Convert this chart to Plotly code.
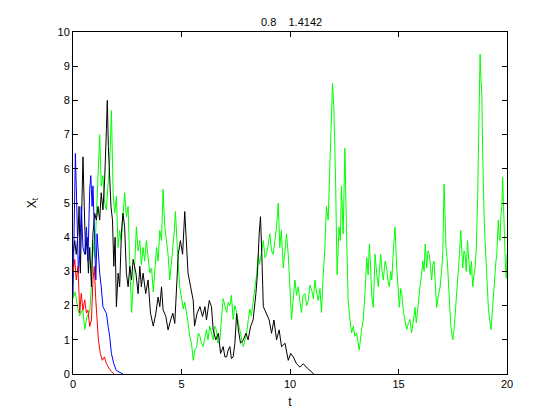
import plotly.graph_objects as go

# Green path
green_t = [0.0, 0.1, 0.2, 0.3, 0.45, 0.54, 0.65, 0.77, 0.85, 0.9, 1.0, 1.08, 1.15, 1.23, 1.3, 1.38, 1.46, 1.54,
           1.62, 1.7, 1.77, 1.85, 1.92, 2.0, 2.08, 2.15, 2.23, 2.3, 2.38, 2.46, 2.54, 2.6, 2.7, 2.77, 2.85, 2.92,
           3.0, 3.08, 3.15, 3.23, 3.3, 3.38, 3.46, 3.54, 3.62, 3.7, 3.77, 3.85, 3.92, 4.0, 4.08, 4.15, 4.23, 4.3,
           4.38, 4.46, 4.53, 4.6, 4.66, 4.72, 4.8, 4.86, 4.92, 5.0, 5.08, 5.15, 5.23, 5.3, 5.38, 5.46, 5.54, 5.62,
           5.7, 5.78, 5.85, 5.92, 6.0, 6.08, 6.15, 6.22, 6.3, 6.38, 6.46, 6.53, 6.6, 6.68, 6.77, 6.85, 6.92, 7.0,
           7.08, 7.15, 7.23, 7.3, 7.38, 7.46, 7.54, 7.62, 7.7, 7.78, 7.85, 7.92, 8.0, 8.08, 8.15, 8.22, 8.3, 8.38,
           8.46, 8.54, 8.6, 8.68, 8.77, 8.85, 8.92, 9.0, 9.07, 9.15, 9.23, 9.3, 9.38, 9.46, 9.53, 9.6, 9.69, 9.77,
           9.84, 9.92, 10.0, 10.07, 10.15, 10.23, 10.3, 10.38, 10.46, 10.53, 10.6, 10.69, 10.77, 10.84, 10.92, 11.0,
           11.08, 11.15, 11.22, 11.3, 11.38, 11.45, 11.53, 11.6, 11.68, 11.76, 11.84, 11.92, 11.96, 12.02, 12.1,
           12.17, 12.26, 12.32, 12.37, 12.45, 12.53, 12.6, 12.68, 12.76, 12.84, 12.92, 12.99, 13.07, 13.13, 13.19,
           13.3, 13.38, 13.46, 13.54, 13.6, 13.66, 13.72, 13.77, 13.84, 13.92, 14.0, 14.07, 14.12, 14.18, 14.24,
           14.3, 14.38, 14.46, 14.52, 14.58, 14.64, 14.69, 14.77, 14.84, 14.92, 14.98, 15.04, 15.1, 15.15, 15.23,
           15.3, 15.38, 15.46, 15.53, 15.6, 15.66, 15.72, 15.76, 15.82, 15.87, 15.93, 15.99, 16.06, 16.12, 16.18,
           16.23, 16.3, 16.36, 16.42, 16.48, 16.53, 16.58, 16.64, 16.7, 16.76, 16.84, 16.92, 16.98, 17.04, 17.1,
           17.15, 17.19, 17.25, 17.3, 17.35, 17.4, 17.45, 17.5, 17.56, 17.62, 17.68, 17.74, 17.81, 17.87, 17.92,
           17.96, 18.02, 18.07, 18.12, 18.18, 18.24, 18.3, 18.36, 18.42, 18.48, 18.53, 18.58, 18.61, 18.65, 18.68,
           18.72, 18.76, 18.8, 18.84, 18.88, 18.91, 18.95, 18.99, 19.03, 19.07, 19.1, 19.14, 19.18, 19.22, 19.26,
           19.3, 19.34, 19.37, 19.41, 19.45, 19.49, 19.53, 19.57, 19.6, 19.64, 19.68, 19.72, 19.76, 19.8, 19.84,
           19.87, 19.9, 19.93, 19.97, 20.0]
green_x = [2.2, 2.4, 2.0, 1.7, 1.9, 1.3, 1.7, 1.8, 2.6, 3.9, 3.4, 4.5, 5.6, 7.0, 5.5, 5.8, 5.0, 4.8,
           5.6, 6.3, 7.7, 5.3, 4.7, 5.2, 3.7, 4.2, 3.9, 4.6, 5.3, 4.6, 4.9, 3.5, 1.8, 2.6, 3.3, 4.3,
           3.6, 3.9, 3.2, 3.7, 3.3, 3.9, 3.4, 2.95, 3.1, 2.4, 3.0, 3.7, 3.3, 4.2, 3.9, 5.4, 4.3, 3.9,
           3.5, 2.75, 3.2, 3.6, 4.1, 4.75, 3.5, 3.1, 2.55, 2.2, 1.9, 2.1, 1.8, 1.5, 1.1, 0.9, 0.4, 0.7,
           0.8, 1.2, 1.1, 0.9, 0.8, 1.1, 1.3, 1.0, 1.4, 1.2, 1.0, 1.4, 1.3, 0.9, 1.0, 1.7, 2.2, 2.0,
           1.8, 2.1, 2.0, 2.3, 1.6, 2.0, 1.8, 1.5, 1.2, 1.0, 0.8, 1.0, 1.2, 1.6, 1.9, 1.7, 2.2, 2.5,
           2.9, 3.5, 3.2, 3.5, 3.9, 3.4, 3.5, 3.8, 4.1, 3.6, 3.5, 3.9, 4.3, 5.0, 3.7, 4.2, 3.1, 3.6,
           4.1, 3.5, 2.6, 1.6, 2.2, 2.75, 2.3, 2.55, 2.1, 1.8, 2.3, 2.35, 2.0, 2.15, 2.6, 2.45,
           2.2, 2.75, 2.4, 2.15, 2.5, 1.8, 2.9, 3.6, 4.9, 4.5, 6.15, 7.4, 8.5, 7.8, 5.7,
           2.9, 4.3, 3.9, 5.5, 4.1, 6.6, 4.3, 2.15, 1.6, 1.2, 1.4, 1.1, 1.2, 0.9, 0.7,
           1.3, 1.6, 2.45, 3.4, 2.9, 3.8, 3.0, 2.25, 1.95, 3.5, 2.9, 2.55, 3.0, 3.5, 3.0,
           2.75, 3.3, 3.1, 2.7, 2.55, 3.0, 2.75, 3.7, 4.3, 3.1, 2.6, 1.95, 2.5, 2.35, 1.8,
           1.6, 1.3, 1.5, 1.6, 1.2, 1.4, 1.7, 1.95, 1.5, 1.8, 2.3, 2.55, 2.9, 3.3, 3.0,
           3.8, 3.1, 3.6, 3.5, 3.0, 2.75, 3.2, 3.3, 2.6, 1.95, 2.3, 2.55, 3.0, 3.5, 5.55,
           4.2, 3.7, 3.3, 2.6, 1.95, 1.5, 1.2, 1.0, 1.3, 1.8, 2.35, 3.0, 3.5, 4.2, 3.6,
           3.1, 3.6, 3.5, 3.0, 3.9, 3.3, 2.9, 3.3, 2.55, 2.9, 3.1, 3.6, 4.1, 5.2, 6.45,
           8.0, 9.35, 8.6, 8.2, 6.4, 5.3, 4.5, 3.9, 3.3, 2.9, 2.4, 1.95, 1.7, 1.5, 1.3,
           1.6, 2.0, 2.35, 2.6, 2.9, 3.3, 3.5, 4.2, 4.5, 4.0, 3.9, 4.6, 4.9, 5.75, 4.8,
           4.3, 3.6, 3.1, 2.8, 3.5]

# Black path
black_t = [0.0, 0.08, 0.15, 0.23, 0.28, 0.34, 0.4, 0.46, 0.52, 0.58, 0.65, 0.71, 0.77, 0.85, 0.92, 1.0,
           1.08, 1.15, 1.23, 1.3, 1.38, 1.46, 1.54, 1.58, 1.63, 1.69, 1.75, 1.82, 1.88, 1.94, 2.0, 2.08, 2.15,
           2.23, 2.3, 2.38, 2.46, 2.54, 2.62, 2.7, 2.77, 2.9, 3.0, 3.08, 3.15, 3.23, 3.35, 3.46, 3.57, 3.7,
           3.82, 3.92, 4.0, 4.08, 4.15, 4.28, 4.38, 4.5, 4.6, 4.69, 4.77, 4.85, 4.95, 5.05, 5.15, 5.23, 5.3,
           5.42, 5.54, 5.6, 5.72, 5.85, 5.97, 6.08, 6.15, 6.28, 6.38, 6.46, 6.58, 6.7, 6.8, 6.92, 7.0, 7.08,
           7.15, 7.23, 7.3, 7.38, 7.46, 7.54, 7.62, 7.72, 7.85, 7.97, 8.07, 8.18, 8.3, 8.43, 8.5, 8.58, 8.64,
           8.7, 8.77, 8.84, 8.92, 9.04, 9.15, 9.26, 9.38, 9.5, 9.61, 9.77, 9.92, 10.03, 10.15, 10.3, 10.46,
           10.61, 10.8, 10.95, 11.1]
black_x = [3.5, 3.9, 3.5, 4.1, 4.9, 2.95, 4.7, 6.35, 4.9, 3.5, 4.0, 2.95, 3.7, 2.55, 4.1, 4.7,
           4.5, 4.9, 4.5, 5.3, 4.8, 5.7, 7.15, 8.0, 6.65, 5.6, 4.9, 4.5, 3.15, 4.0, 1.97, 2.95, 2.55,
           4.1, 4.7, 4.3, 2.95, 2.55, 3.15, 2.75, 3.35, 2.95, 2.35, 3.15, 2.55, 2.95, 2.35, 2.75, 1.78, 1.4,
           1.78, 2.25, 1.97, 2.55, 1.88, 1.68, 1.29, 1.58, 1.78, 1.48, 2.75, 3.5, 3.9, 3.5, 4.75, 3.7, 2.95,
           2.55, 2.15, 1.4, 1.78, 1.97, 1.68, 1.97, 1.58, 2.15, 1.97, 1.29, 1.0, 1.19, 0.6, 0.8, 0.5, 0.5,
           0.7, 0.8, 0.45, 0.5, 0.9, 1.77, 1.29, 0.9, 1.0, 1.19, 1.0, 1.38, 1.58, 2.36, 2.94, 4.1, 4.6,
           3.52, 1.97, 1.87, 1.77, 1.58, 1.19, 1.58, 1.0, 1.29, 0.8, 0.9, 0.4, 0.6, 0.5, 0.3, 0.2,
           0.3, 0.17, 0.07, 0.0]

# Blue path
blue_t = [0.0, 0.05, 0.11, 0.15, 0.2, 0.25, 0.31, 0.38, 0.46, 0.54, 0.62, 0.69, 0.77, 0.82, 0.88, 0.92,
          0.98, 1.05, 1.11, 1.17, 1.23, 1.3, 1.38, 1.46, 1.54, 1.62, 1.69, 1.77, 1.88, 2.0, 2.15, 2.3]
blue_x = [2.27, 4.9, 6.45, 5.5, 4.0, 2.95, 3.5, 4.9, 3.7, 3.5, 4.3, 3.3, 5.4, 5.8, 4.9, 5.5,
          4.3, 2.75, 4.1, 3.5, 2.95, 2.55, 1.97, 1.87, 1.77, 1.39, 1.1, 0.6, 0.3, 0.1, 0.04, 0.0]

# Red path
red_t = [0.0, 0.08, 0.15, 0.23, 0.31, 0.38, 0.46, 0.54, 0.62, 0.69, 0.77, 0.85, 0.92, 0.98, 1.05,
         1.11, 1.17, 1.26, 1.35, 1.45, 1.54, 1.66, 1.77, 1.9]
red_x = [2.95, 3.35, 2.75, 3.15, 1.78, 2.36, 1.87, 2.17, 1.78, 1.87, 1.39, 1.58, 2.75, 3.15, 2.17,
         1.58, 1.0, 0.6, 0.4, 0.5, 0.3, 0.17, 0.07, 0.0]

x_ticks = [0, 5, 10, 15, 20]
y_ticks = [0, 1, 2, 3, 4, 5, 6, 7, 8, 9, 10]
title_text = "0.8    1.4142"

FONT = "Liberation Sans, Arial"

fig = go.Figure()
for tt, xx, col in [(green_t, green_x, "#00ff00"), (black_t, black_x, "#000000"),
                    (blue_t, blue_x, "#0000ff"), (red_t, red_x, "#ff0000")]:
    fig.add_trace(go.Scatter(x=tt, y=xx, mode="lines", line=dict(color=col, width=1), showlegend=False))

axis_common = dict(showgrid=False, zeroline=False, showline=True, linecolor="black", linewidth=1,
                   mirror="ticks", ticks="inside", ticklen=5, tickcolor="black",
                   tickfont=dict(family=FONT, size=11, color="black"))
fig.update_xaxes(range=[0, 20], tickvals=x_ticks, title=dict(text="t", standoff=8,
                 font=dict(family=FONT, size=12, color="black")), **axis_common)
fig.update_yaxes(range=[0, 10], tickvals=y_ticks, title=dict(text="X<sub>t</sub>", standoff=18,
                 font=dict(family=FONT, size=12, color="black")), **axis_common)
fig.update_layout(
    width=560, height=420,
    margin=dict(l=65, r=61, t=24, b=54, autoexpand=False),
    paper_bgcolor="white", plot_bgcolor="white",
    title=dict(text=title_text, x=(65 + 499) / 2 / 560, xanchor="center", xref="paper",
               y=1 - 14 / 420, yanchor="middle",
               font=dict(family=FONT, size=11, color="black")),
)
fig.write_html("out.html")
